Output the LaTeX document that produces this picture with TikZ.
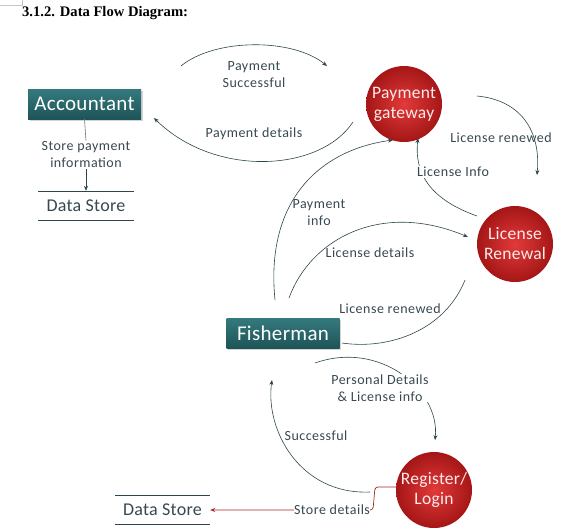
\documentclass[tikz,border=0pt]{standalone}
\usepackage{fontspec}
\setmainfont{Carlito}
\newfontfamily\titlefont{Liberation Serif}
\newfontfamily\lblfont[LetterSpace=3.5]{Carlito}
\newfontfamily\boxfont[LetterSpace=1.5]{Carlito}
\usetikzlibrary{shadows,arrows.meta}
\definecolor{tealA}{RGB}{52,122,125}
\definecolor{tealB}{RGB}{30,84,88}
\definecolor{linec}{RGB}{45,70,75}
\definecolor{labc}{RGB}{55,72,80}
\definecolor{redIn}{RGB}{226,58,58}
\definecolor{redOut}{RGB}{165,22,22}
\definecolor{storered}{RGB}{168,40,36}
\begin{document}
\begin{tikzpicture}[x=1pt,y=-1pt,
  ent/.style={draw=none, top color=tealA, bottom color=tealB, text=white,
    font=\boxfont\fontsize{21}{22}\selectfont, minimum width=113pt, minimum height=30pt, inner sep=0pt,
    drop shadow={opacity=0.35, shadow xshift=1.5pt, shadow yshift=-1.5pt}},
  proc/.style={circle, inner color=redIn, outer color=redOut, text=white!92!red, align=center,
    font=\boxfont\fontsize{17.5}{20}\selectfont, minimum size=76pt, inner sep=0pt},
  flow/.style={draw=linec, line width=0.6pt, -{Stealth[length=5pt,width=4pt]}},
  plain/.style={draw=linec, line width=0.6pt},
  lbl/.style={text=labc, font=\lblfont\fontsize{14}{17}\selectfont, align=center, inner sep=1pt},
  store/.style={text=labc, font=\boxfont\fontsize{18}{20}\selectfont, minimum width=95pt, minimum height=29pt, inner sep=0pt},
]
\useasboundingbox (0,0) rectangle (562,531);
% page corner mark
\draw[gray!45, line width=0.4pt] (0,5) -- (22,5) -- (22,0);
\node[anchor=west, font=\titlefont\bfseries\fontsize{14.6}{16}\selectfont, inner sep=0pt] (title) at (22,13) {3.1.2. Data Flow Diagram:};

% entities
\node[ent] (acc) at (84.5,104) {Accountant};
\node[ent] (fish) at (283,333) {Fisherman};
% processes
\node[proc] (pg) at (404,104) {Payment\\gateway};
\node[proc] (lr) at (515,244) {License\\Renewal};
\node[proc] (rl) at (434,490) {Register/\\Login};
% data stores
\node[store] (ds1) at (86,205.5) {Data Store};
\draw[plain] (ds1.north west) -- (ds1.north east) (ds1.south west) -- (ds1.south east);
\node[store] (ds2) at (162.5,510) {Data Store};
\draw[plain] (ds2.north west) -- (ds2.north east) (ds2.south west) -- (ds2.south east);

% accountant -> data store
\node[lbl] (spi) at (86,155) {Store payment\\information};
\draw[draw=gray!80!linec, line width=0.6pt] (acc.south) -- (spi.north);
\draw[flow] (spi.south) -- (ds1.north);

% named free ends
\coordinate (a1s) at (181,66);   \coordinate (a1e) at (327,66);
\coordinate (a2s) at (353,122);  \coordinate (a2e) at (154,118);
\coordinate (a3s) at (477,96);   \coordinate (a3e) at (537,175);
\coordinate (a4s) at (477,216);  \coordinate (a4e) at (418,138);
\coordinate (a5s) at (275,300);  \coordinate (a5e) at (393,140);
\coordinate (a6s) at (289,298);  \coordinate (a6e) at (468,237);
\coordinate (a7s) at (465,280);  \coordinate (a7e) at (342,343);
\coordinate (a8s) at (315,363);  \coordinate (a8e) at (435,440);
\coordinate (a9s) at (370,492);  \coordinate (a9e) at (272,380);

\draw[flow] (a1s) .. controls (215,38) and (293,38) .. (a1e);
\node[lbl] (l1) at (254,74.5) {Payment\\Successful};

\draw[flow] (a2s) .. controls (320,172) and (215,178) .. (a2e);
\node[lbl] (l2) at (254,134) {Payment details};

\draw[flow] (a3s) .. controls (520,100) and (541,130) .. (a3e);
\node[lbl] (l3) at (501,138) {License renewed};

\draw[flow] (a4s) .. controls (432,200) and (414,175) .. (a4e);
\node[lbl, fill=white] (l4) at (453,172) {License Info};

\draw[flow] (a5s) .. controls (265,200) and (320,150) .. (a5e);
\node[lbl] (l5) at (319,213) {Payment\\info};

\draw[flow] (a6s) .. controls (310,240) and (380,200) .. (a6e);
\node[lbl] (l6) at (370,253) {License details};

\draw[plain] (a7s) .. controls (445,330) and (390,350) .. (a7e);
\node[lbl] (l7) at (390,309) {License renewed};

\draw[flow] (a8s) .. controls (380,340) and (440,390) .. (a8e);
\node[lbl, fill=white] (l8) at (380,388) {Personal Details\\\& License info};

\draw[flow] (a9s) .. controls (300,495) and (265,430) .. (a9e);
\node[lbl] (l9) at (316,436) {Successful};

% register -> data store (red)
\draw[draw=storered, line width=0.7pt, rounded corners=3pt, -{Stealth[length=5pt,width=4pt]}]
  (rl.west |- 0,487) -- (375,487) -- (373,510) -- (ds2.east);
\node[lbl, fill=white, inner sep=0.5pt] (l10) at (332,510) {Store details};
\end{tikzpicture}
\end{document}
